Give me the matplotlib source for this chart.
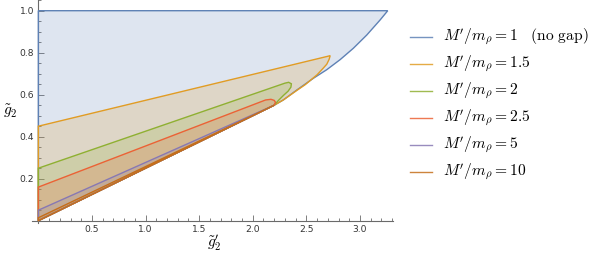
import matplotlib
matplotlib.use('Agg')
import matplotlib.pyplot as plt
import matplotlib.ticker as ticker
from matplotlib.patches import Polygon
from matplotlib.lines import Line2D

plt.rcParams["mathtext.fontset"] = "cm"

# ── Data ──────────────────────────────────────────────────────────────────────
labels = [r"$M'/m_\rho = 1\ \ \ (\mathrm{no\ gap})$",
          r"$M'/m_\rho = 1.5$",
          r"$M'/m_\rho = 2$",
          r"$M'/m_\rho = 2.5$",
          r"$M'/m_\rho = 5$",
          r"$M'/m_\rho = 10$"]
colors = ["#5E81B5", "#E19C24", "#8FB032", "#EB6235", "#8778B3", "#C56E1A"]

# region boundaries, traced clockwise from the origin
x_m1 = [0.0, 0.0, 3.259, 3.188, 3.063, 2.938, 2.815, 2.690, 2.565, 2.410, 2.285, 2.20]
y_m1 = [0.0, 1.0, 1.000, 0.956, 0.884, 0.821, 0.767, 0.719, 0.678, 0.622, 0.575, 0.55]

x_m15 = [0.0, 0.0, 2.70, 2.722, 2.712, 2.690, 2.655, 2.600, 2.490, 2.410, 2.285, 2.20]
y_m15 = [0.0, 0.45, 0.783, 0.786, 0.768, 0.745, 0.725, 0.695, 0.648, 0.620, 0.575, 0.55]

x_m2 = [0.0, 0.0, 2.30, 2.335, 2.360, 2.356, 2.330, 2.285, 2.240, 2.20]
y_m2 = [0.0, 0.25, 0.655, 0.659, 0.652, 0.636, 0.617, 0.596, 0.573, 0.55]

x_m25 = [0.0, 0.0, 2.12, 2.170, 2.200, 2.212, 2.205, 2.20]
y_m25 = [0.0, 0.16, 0.575, 0.578, 0.573, 0.564, 0.556, 0.55]

x_m5 = [0.0, 0.0, 2.20]
y_m5 = [0.0, 0.05, 0.55]

x_m10 = [0.0, 0.0, 2.20]
y_m10 = [0.0, 0.014, 0.55]

regions = [(x_m1, y_m1), (x_m15, y_m15), (x_m2, y_m2),
           (x_m25, y_m25), (x_m5, y_m5), (x_m10, y_m10)]

# ── Figure ────────────────────────────────────────────────────────────────────
W, H = 592, 256
fig = plt.figure(figsize=(W / 100, H / 100), dpi=100)
ax = fig.add_axes([0.0539, 0.1297, 0.6103, 0.8695])

for (xs, ys), c in zip(regions, colors):
    ax.add_patch(Polygon(list(zip(xs, ys)), closed=True, facecolor=c,
                         alpha=0.2, edgecolor="none", zorder=2))
    ax.add_patch(Polygon(list(zip(xs, ys)), closed=True, facecolor="none",
                         edgecolor=c, linewidth=1.0, zorder=3))

ax.set_xlim(-0.06, 3.31)
ax.set_ylim(-0.01, 1.05)

AXC = "#6a6a6a"
for s in ["top", "right"]:
    ax.spines[s].set_visible(False)
ax.spines["left"].set_position(("data", 0))
ax.spines["bottom"].set_position(("data", 0))
for s in ["left", "bottom"]:
    ax.spines[s].set_color(AXC)
    ax.spines[s].set_linewidth(0.8)
    ax.spines[s].set_zorder(1)

ax.set_xticks([0.5, 1.0, 1.5, 2.0, 2.5, 3.0])
ax.set_yticks([0.2, 0.4, 0.6, 0.8, 1.0])
ax.xaxis.set_minor_locator(ticker.MultipleLocator(0.1))
ax.yaxis.set_minor_locator(ticker.MultipleLocator(0.05))
ax.xaxis.set_major_formatter(ticker.FormatStrFormatter("%.1f"))
ax.yaxis.set_major_formatter(ticker.FormatStrFormatter("%.1f"))
ax.tick_params(which="both", direction="in", color=AXC, width=0.6,
               labelsize=6.6, labelcolor="#333333")
ax.tick_params(which="major", length=4.0, pad=3)
ax.tick_params(which="minor", length=2.0)

fig.text(0.362, 0.052, r"$\tilde{g}^{\prime}_{2}$", fontsize=11, ha="center", va="center")
fig.text(0.018, 0.565, r"$\tilde{g}_2$", fontsize=11, ha="center", va="center")

# ── Legend (drawn by hand, one row per region) ───────────────────────────────
row_y0, row_dy = 36.7, 27.0
for i, (c, lab) in enumerate(zip(colors, labels)):
    yp = row_y0 + i * row_dy
    fig.add_artist(Line2D([410 / W, 432 / W], [1 - yp / H, 1 - yp / H],
                          color=c, lw=1.0, alpha=0.85))
    fig.text(443 / W, 1 - (yp + 4.3) / H, lab, fontsize=11.2,
             ha="left", va="baseline")

fig.savefig("out.png", dpi=100)
